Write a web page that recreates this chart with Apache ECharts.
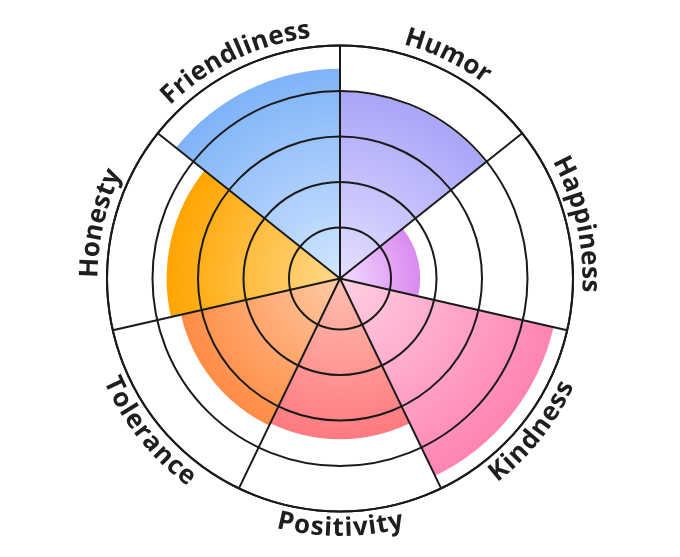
<!DOCTYPE html>
<html>
<head>
<meta charset="utf-8">
<script src="https://cdn.jsdelivr.net/npm/echarts@6/dist/echarts.min.js"></script>
<style>
  html, body { margin: 0; padding: 0; background: #fff; }
  #chart { width: 680px; height: 557px; }
</style>
</head>
<body>
<div id="chart"></div>
<script>
  // categories clockwise from 12 o'clock
  const categories = ['Humor', 'Happiness', 'Kindness', 'Positivity', 'Tolerance', 'Honesty', 'Friendliness']
  const scores = [4.0, 1.72, 4.7, 3.45, 3.5, 3.72, 4.5]
  const ringTicks = [1, 2, 3, 4, 5]
  const innerColors = ['#e4e0ff', '#f3dcff', '#ffd0e2', '#ffbfb0', '#ffcaa4', '#ffd98c', '#d2e6ff']
  const outerColors = ['#a9a5f9', '#d98af0', '#ff84b2', '#ff7a80', '#ff8c45', '#ffa500', '#7fb3f8']

  const chart = echarts.init(document.getElementById('chart'))
  const cx = chart.getWidth() / 2
  const cy = chart.getHeight() / 2
  const R = 233
  const maxVal = 5
  // the rings sit a little off the bar scale: first ring at ~51px
  const ringInner = 51
  const rOf = v => v / maxVal * R

  // curved labels: one text element per character along the rim
  const labelFont = 'bold 26px "Open Sans"'
  const labelR = 250
  const spacing = 0.6
  const ctx = document.createElement('canvas').getContext('2d')
  ctx.font = labelFont
  const step = 360 / categories.length
  const labels = []
  categories.forEach((name, i) => {
    const mid = (90 - (i + 0.5) * step) * Math.PI / 180
    const bottom = Math.sin(mid) < 0
    const chars = name.split('')
    const widths = chars.map(c => ctx.measureText(c).width + spacing)
    const total = widths.reduce((a, b) => a + b, 0) - spacing
    let cum = 0
    chars.forEach((c, k) => {
      const off = (total / 2 - (cum + widths[k] / 2)) / labelR
      cum += widths[k]
      const t = bottom ? mid - off : mid + off
      labels.push({
        type: 'text',
        x: cx + labelR * Math.cos(t),
        y: cy - labelR * Math.sin(t),
        rotation: bottom ? t + Math.PI / 2 : t - Math.PI / 2,
        style: {
          text: c,
          font: labelFont,
          fill: '#1e1e1e',
          align: 'center',
          verticalAlign: 'middle'
        }
      })
    })
  })

  const lineStyle = { color: '#1a1a1a', width: 2 }
  const hidden = { show: false }

  const option = {
    animation: false,
    polar: [
      { center: ['50%', '50%'], radius: [0, R] },
      { center: ['50%', '50%'], radius: [ringInner, R] }
    ],
    angleAxis: [{
      polarIndex: 0,
      type: 'category',
      data: categories,
      startAngle: 90,
      clockwise: true,
      z: 10,
      axisLine: { show: true, lineStyle: lineStyle },
      axisTick: hidden,
      axisLabel: hidden,
      splitLine: { show: true, lineStyle: lineStyle }
    }, {
      polarIndex: 1,
      type: 'category',
      data: categories,
      startAngle: 90,
      z: 10,
      axisLine: hidden,
      axisTick: hidden,
      axisLabel: hidden,
      splitLine: hidden
    }],
    radiusAxis: [{
      polarIndex: 0,
      type: 'value',
      min: 0,
      max: maxVal,
      z: 10,
      axisLine: hidden,
      axisTick: hidden,
      axisLabel: hidden,
      splitLine: hidden
    }, {
      polarIndex: 1,
      type: 'value',
      min: ringTicks[0],
      max: ringTicks[ringTicks.length - 1],
      interval: 1,
      z: 10,
      axisLine: hidden,
      axisTick: hidden,
      axisLabel: hidden,
      splitLine: { show: true, lineStyle: lineStyle }
    }],
    series: [{
      type: 'bar',
      coordinateSystem: 'polar',
      polarIndex: 0,
      barCategoryGap: '0%',
      data: scores.map((v, i) => ({
        value: v,
        itemStyle: {
          color: {
            type: 'radial',
            x: cx,
            y: cy,
            r: rOf(v),
            global: true,
            colorStops: [
              { offset: 0, color: innerColors[i] },
              { offset: 1, color: outerColors[i] }
            ]
          }
        }
      }))
    }],
    graphic: labels
  }
  chart.setOption(option)
</script>
</body>
</html>
